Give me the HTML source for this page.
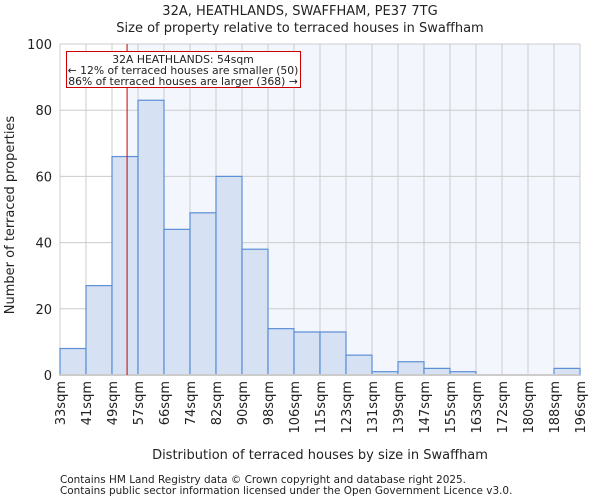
<!DOCTYPE html>
<html><head><meta charset="utf-8"><style>
body{margin:0;background:#fff;font-family:"DejaVu Sans","Liberation Sans",sans-serif;}
svg text{font-family:"DejaVu Sans","Liberation Sans",sans-serif;fill:#222;}
</style></head><body>
<svg id="c" width="600" height="500"></svg>
<script>
const labels=["33sqm","41sqm","49sqm","57sqm","66sqm","74sqm","82sqm","90sqm","98sqm","106sqm","115sqm","123sqm","131sqm","139sqm","147sqm","155sqm","163sqm","172sqm","180sqm","188sqm","196sqm"];
const counts=[8,27,66,83,44,49,60,38,14,13,13,6,1,4,2,1,0,0,0,2];
const yTicks=[0,20,40,60,80,100];
const propertyPos=[2.58];
const NS="http://www.w3.org/2000/svg";
const svg=document.getElementById('c');
const L=60,R=580,T=44,B=375;
const bw=(R-L)/counts.length;
const x=i=>L+i*bw;
const y=v=>B-(v/100)*(B-T);
function mk(t,a,txt){const e=document.createElementNS(NS,t);for(const k in a)e.setAttribute(k,a[k]);if(txt!==undefined)e.textContent=txt;svg.appendChild(e);return e;}
const px=x(propertyPos[0]);
let e=mk('rect',{x:L,y:T,width:R-L,height:B-T,fill:'#f3f6fd'});

e=mk('rect',{x:L,y:T,width:px-L,height:B-T,fill:'#ffffff'});

for(let i=0;i<=counts.length;i++){e=mk('line',{x1:x(i),x2:x(i),y1:T,y2:B,stroke:'#cccccc','stroke-width':1});
}
yTicks.forEach(v=>{e=mk('line',{x1:L,x2:R,y1:y(v),y2:y(v),stroke:'#cccccc','stroke-width':1});

e=mk('text',{x:L-8,y:y(v)+5,'text-anchor':'end','font-size':13},String(v));
});
counts.forEach((c,i)=>{e=mk('rect',{x:x(i),y:y(c),width:bw,height:B-y(c),fill:'#d6e1f3',stroke:'#5b8fd6','stroke-width':1.2});
});
e=mk('line',{x1:L,x2:R,y1:B,y2:B,stroke:'#cccccc','stroke-width':2});

labels.forEach((l,i)=>{e=mk('text',{transform:`translate(${x(i)+5},381) rotate(-90)`,'text-anchor':'end','font-size':13},l);
});
e=mk('line',{x1:px,x2:px,y1:T,y2:B,stroke:'#cc0000','stroke-width':1});

e=mk('rect',{x:66.5,y:51.5,width:234,height:36,fill:'#fff',stroke:'#cc0000','stroke-width':1});

[["32A HEATHLANDS: 54sqm",63],["← 12% of terraced houses are smaller (50)",74],["86% of terraced houses are larger (368) →",85]].forEach(a=>{
e=mk('text',{x:183,y:a[1],'text-anchor':'middle','font-size':10.8},a[0]);
});
e=mk('text',{x:300,y:15,'text-anchor':'middle','font-size':13},"32A, HEATHLANDS, SWAFFHAM, PE37 7TG");

e=mk('text',{x:300,y:32,'text-anchor':'middle','font-size':13},"Size of property relative to terraced houses in Swaffham");

e=mk('text',{transform:'translate(14,215) rotate(-90)','text-anchor':'middle','font-size':13},"Number of terraced properties");

e=mk('text',{x:320,y:459,'text-anchor':'middle','font-size':13},"Distribution of terraced houses by size in Swaffham");

e=mk('text',{x:60,y:483,'font-size':10.45,fill:'#555'},"Contains HM Land Registry data © Crown copyright and database right 2025.");

e=mk('text',{x:60,y:494,'font-size':10.45,fill:'#555'},"Contains public sector information licensed under the Open Government Licence v3.0.");

</script>
</body></html>
